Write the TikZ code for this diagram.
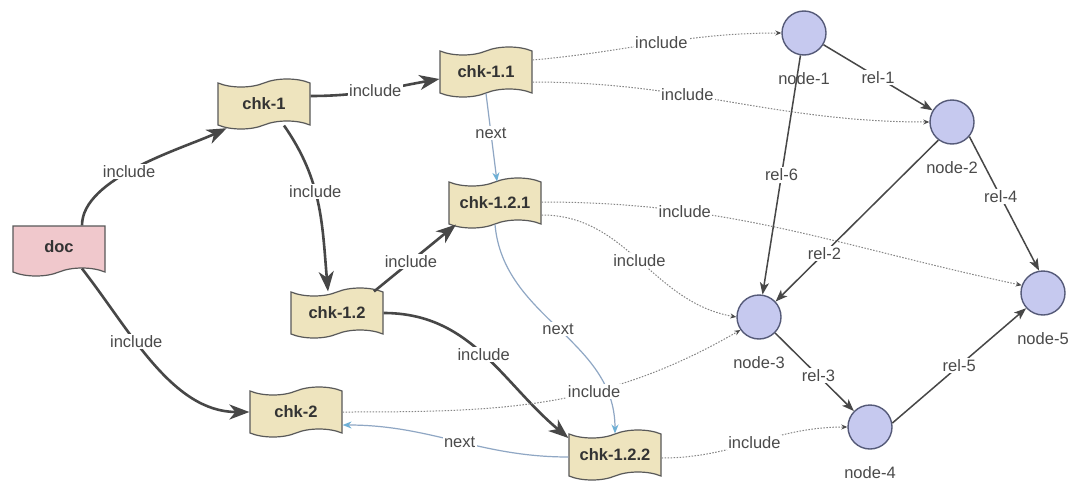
\documentclass[tikz,border=0pt]{standalone}
\usepackage{fontspec}
\setmainfont{Liberation Sans}
\usetikzlibrary{shapes.symbols,arrows.meta,calc}
\definecolor{chkfill}{HTML}{EEE4BE}
\definecolor{docfill}{HTML}{F0C8CC}
\definecolor{circfill}{HTML}{C6C9EF}
\definecolor{circline}{HTML}{555A78}
\definecolor{edgedark}{HTML}{474747}
\definecolor{nextblue}{HTML}{8FA7C4}
\definecolor{arrblue}{HTML}{6EB0D6}
\definecolor{dotgray}{HTML}{858585}
\definecolor{txtgray}{HTML}{4A4A4A}
\begin{document}
\begin{tikzpicture}[x=1pt,y=1pt,
  chkbox/.style={tape, draw=black!65, line width=1.2pt, fill=chkfill,
    minimum width=92pt, minimum height=50pt, tape bend height=8pt, inner sep=0pt,
    font=\fontsize{16.5}{18}\selectfont\bfseries, text=black!80},
  docbox/.style={chkbox, fill=docfill, tape bend top=none},
  ent/.style={circle, draw=circline, line width=1.4pt, fill=circfill,
    minimum size=44pt, inner sep=0pt},
  entlbl/.style={font=\fontsize{16.5}{18}\selectfont, text=txtgray, inner sep=0pt, label distance=17pt},
  lbl/.style={fill=white, inner sep=1.5pt, font=\fontsize{16.5}{18}\selectfont, text=txtgray},
  inc/.style={draw=edgedark, line width=2.6pt, -{Stealth[length=20pt,width=15pt,inset=6pt]}},
  nxt/.style={draw=nextblue, line width=1.2pt, -{Stealth[length=9pt,width=7pt,color=arrblue]}},
  dot/.style={draw=dotgray, line width=1pt, dash pattern=on 1.5pt off 1.5pt, -{Stealth[length=6pt,width=5pt,color=black!70]}},
  rel/.style={draw=edgedark, line width=1.5pt, -{Stealth[length=12pt,width=9pt,inset=3pt]}},
]
\useasboundingbox (0,0) rectangle (1069,-482);
\fill[white] (0,0) rectangle (1069,-482);

% chunk / document nodes
\node[docbox] (doc)    at (59,-247)  {doc};
\node[chkbox] (chk1)   at (264,-104) {chk-1};
\node[chkbox] (chk11)  at (486,-72)  {chk-1.1};
\node[chkbox] (chk121) at (495,-203) {chk-1.2.1};
\node[chkbox] (chk12)  at (337,-313) {chk-1.2};
\node[chkbox] (chk2)   at (296,-412) {chk-2};
\node[chkbox] (chk122) at (615,-455) {chk-1.2.2};

% entity nodes
\node[ent, label={[entlbl]below:node-1}] (n1) at (804,-33)  {};
\node[ent, label={[entlbl]below:node-2}] (n2) at (952,-122) {};
\node[ent, label={[entlbl]below:node-3}] (n3) at (759,-317) {};
\node[ent, label={[entlbl]below:node-4}] (n4) at (870,-427) {};
\node[ent, label={[entlbl]below:node-5}] (n5) at (1043,-293) {};

% include (structure)
\draw[inc] ([xshift=23pt]doc.north) to[out=90,in=205,looseness=0.7] node[lbl,pos=0.45]{include} (chk1.213);
\draw[inc] ([xshift=23pt]doc.south) to[out=-52,in=180,looseness=0.9] node[lbl,pos=0.38]{include} (chk2.west);
\draw[inc] ([yshift=8pt]chk1.east) to[out=0,in=190] node[lbl,pos=0.5]{include} ([yshift=-7pt]chk11.west);
\draw[inc] ([xshift=20pt]chk1.south) to[out=-55,in=95] node[lbl,pos=0.42]{include} ([xshift=-9pt]chk12.north);
\draw[inc] ([xshift=37pt]chk12.north) -- node[lbl,pos=0.45]{include} ([xshift=-39pt]chk121.south);
\draw[inc] (chk12.east) to[out=0,in=140] node[lbl,pos=0.5]{include} (chk122.160);

% next
\draw[nxt] (chk11.south) -- node[lbl,pos=0.45]{next} ([xshift=2pt]chk121.north);
\draw[nxt] (chk121.south) to[out=-85,in=90] node[lbl,pos=0.5]{next} (chk122.north);
\draw[nxt] ([yshift=-2pt]chk122.west) to[out=180,in=0] node[lbl,pos=0.48]{next} ([yshift=-13pt]chk2.east);

% include (chunk to entity)
\draw[dot] ([yshift=12pt]chk11.east) to[out=5,in=180] node[lbl,pos=0.52]{include} (n1.west);
\draw[dot] ([yshift=-10pt]chk11.east) to[out=0,in=180] node[lbl,pos=0.38]{include} (n2.west);
\draw[dot] ([yshift=1pt]chk121.east) to[out=0,in=168] node[lbl,pos=0.28]{include} (n5.160);
\draw[dot] ([yshift=-12pt]chk121.east) to[out=0,in=170] node[lbl,pos=0.5]{include} (n3.west);
\draw[dot] (chk2.east) to[out=0,in=210] node[lbl,pos=0.62]{include} (n3.215);
\draw[dot] ([yshift=-3pt]chk122.east) to[out=0,in=180] node[lbl,pos=0.5]{include} (n4.west);

% relations
\draw[rel] (n1) -- node[lbl,pos=0.5]{rel-1} (n2);
\draw[rel] (n1) -- node[lbl,pos=0.5]{rel-6} (n3);
\draw[rel] (n2.233) -- node[lbl,pos=0.7]{rel-2} (n3.43);
\draw[rel] (n2.-40) -- node[lbl,pos=0.45]{rel-4} (n5.100);
\draw[rel] (n3) -- node[lbl,pos=0.55]{rel-3} (n4);
\draw[rel] (n4.10) -- node[lbl,pos=0.5]{rel-5} (n5.222);
\end{tikzpicture}
\end{document}
